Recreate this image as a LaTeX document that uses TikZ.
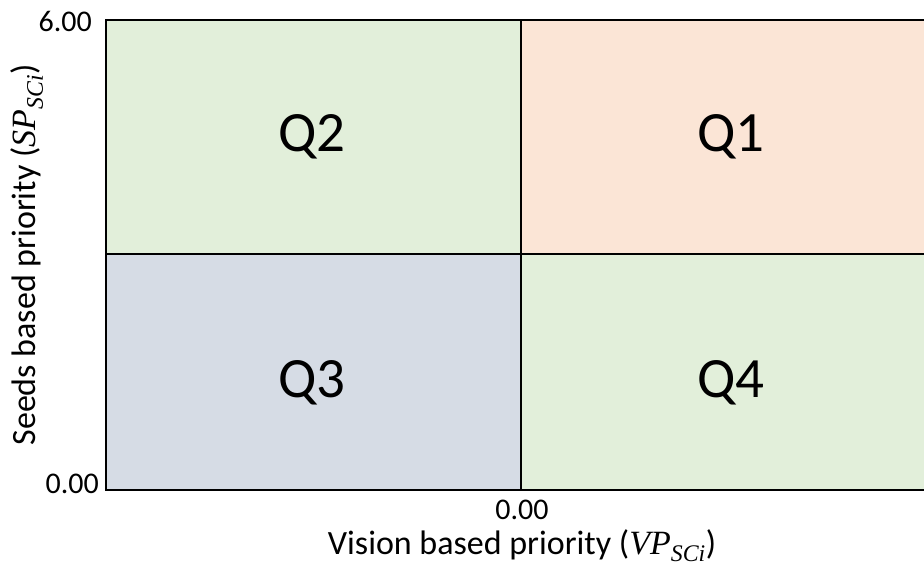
\documentclass[tikz,border=0pt]{standalone}
\usepackage{fontspec}
\setmainfont{Carlito}
\newfontfamily\symfont{Liberation Serif}
\newcommand{\varsym}[2]{{\symfont\itshape #1\textsubscript{#2}}}
\usetikzlibrary{positioning}

\begin{document}
\begin{tikzpicture}[x=1pt,y=-1pt]

% ------------------------------------------------ quadrant colors
\definecolor{q_green}{RGB}{226,239,218} %#E2EFDA
\definecolor{q_peach}{RGB}{251,229,214} %#FBE5D6
\definecolor{q_blue}{RGB}{214,220,229}  %#D6DCE5

\useasboundingbox (0,0) rectangle (924,569);
\clip (0,0) rectangle (924,569);

% quadrants
\fill[q_green] (106,20)  rectangle (521,254);
\fill[q_peach] (521,20)  rectangle (945,254);
\fill[q_blue]  (106,254) rectangle (521,490);
\fill[q_green] (521,254) rectangle (945,490);

% grid lines
\draw[line width=2.2pt,black] (106,254) -- (945,254);
\draw[line width=2.2pt,black] (521,20) -- (521,490);

% axes
\draw[line width=2.8pt,black] (945,20) -- (106,20) -- (106,490) -- (945,490);

% quadrant labels
\node[font=\fontsize{57}{60}\selectfont] (q2) at (312,137) {Q2};
\node[font=\fontsize{57}{60}\selectfont] (q1) at (731,137) {Q1};
\node[font=\fontsize{57}{60}\selectfont] (q3) at (312,383) {Q3};
\node[font=\fontsize{57}{60}\selectfont] (q4) at (731,383) {Q4};

% ticks
\node[anchor=east,inner sep=0pt,font=\fontsize{30}{32}\selectfont] (ytop) at (92,21)  {6.00};
\node[anchor=east,inner sep=0pt,font=\fontsize{30}{32}\selectfont] (ybot) at (99,484) {0.00};
\node[inner sep=0pt,font=\fontsize{30}{32}\selectfont] (xmid) at (522,510) {0.00};

% axis titles
\node[font=\fontsize{34}{36}\selectfont] (xlab) at (522,546) {Vision based priority (\varsym{VP}{SCi})};
\node[rotate=90,font=\fontsize{34}{36}\selectfont] (ylab) at (27,255) {Seeds based priority (\varsym{SP}{SCi})};

\end{tikzpicture}
\end{document}
